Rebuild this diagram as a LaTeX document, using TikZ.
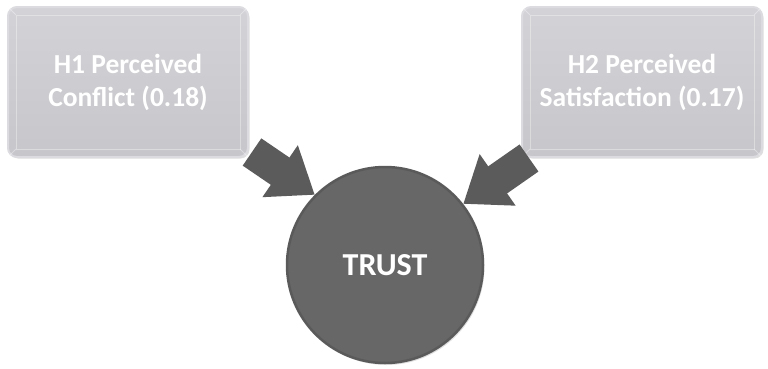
\documentclass[tikz,border=0pt]{standalone}
\usepackage{fontspec}
\setmainfont{Carlito}
\usetikzlibrary{arrows.meta,shadows}
\definecolor{boxfill}{HTML}{C7C7CB}
\definecolor{boxtop}{HTML}{D3D3D7}
\definecolor{boxedge}{HTML}{DCDCE0}
\definecolor{circfill}{HTML}{676767}
\definecolor{circedge}{HTML}{5A5A5A}
\definecolor{arrowfill}{HTML}{5B5B5B}
\tikzset{
  hbox/.style={rounded corners=9pt, minimum width=240pt, minimum height=150pt,
    top color=boxtop, bottom color=boxfill, draw=boxedge, line width=2pt,
    text=white, align=center, font=\bfseries\fontsize{27.5}{33}\selectfont,
    drop shadow={shadow xshift=1.5pt, shadow yshift=-1.5pt, opacity=0.25}},
  core/.style={circle, minimum size=196pt, fill=circfill, draw=circedge, line width=2.5pt,
    text=white, font=\bfseries\fontsize{32}{36}\selectfont,
    drop shadow={shadow xshift=1.5pt, shadow yshift=-2pt, opacity=0.25}},
  fat/.style={draw=arrowfill, line width=33pt, -{Triangle[length=42pt,width=60pt]}}
}
\begin{document}
\begin{tikzpicture}[x=1pt,y=1pt]
\useasboundingbox (0,0) rectangle (768,-368);
\node[hbox] (h1) at (128,-82) {H1 Perceived\\Conflict (0.18)};
\node[hbox] (h2) at (642,-82) {H2 Perceived\\Satisfaction (0.17)};
% bevel lines
\foreach \b in {h1,h2}{
  \draw[white, opacity=0.35, line width=0.8pt]
    ([xshift=9pt,yshift=-9pt]\b.north west) rectangle ([xshift=-9pt,yshift=9pt]\b.south east);
  \draw[white, opacity=0.35, line width=0.8pt]
    ([xshift=2pt,yshift=-2pt]\b.north west) -- ([xshift=9pt,yshift=-9pt]\b.north west)
    ([xshift=-2pt,yshift=-2pt]\b.north east) -- ([xshift=-9pt,yshift=-9pt]\b.north east)
    ([xshift=2pt,yshift=2pt]\b.south west) -- ([xshift=9pt,yshift=9pt]\b.south west)
    ([xshift=-2pt,yshift=2pt]\b.south east) -- ([xshift=-9pt,yshift=9pt]\b.south east);
}
\node[core] (trust) at (385,-265) {TRUST};
\coordinate (t1) at (252,-152);
\coordinate (t2) at (529,-158);
\draw[fat] (t1) -- (trust.135);
\draw[fat] (t2) -- (trust.38);
\end{tikzpicture}
\end{document}
